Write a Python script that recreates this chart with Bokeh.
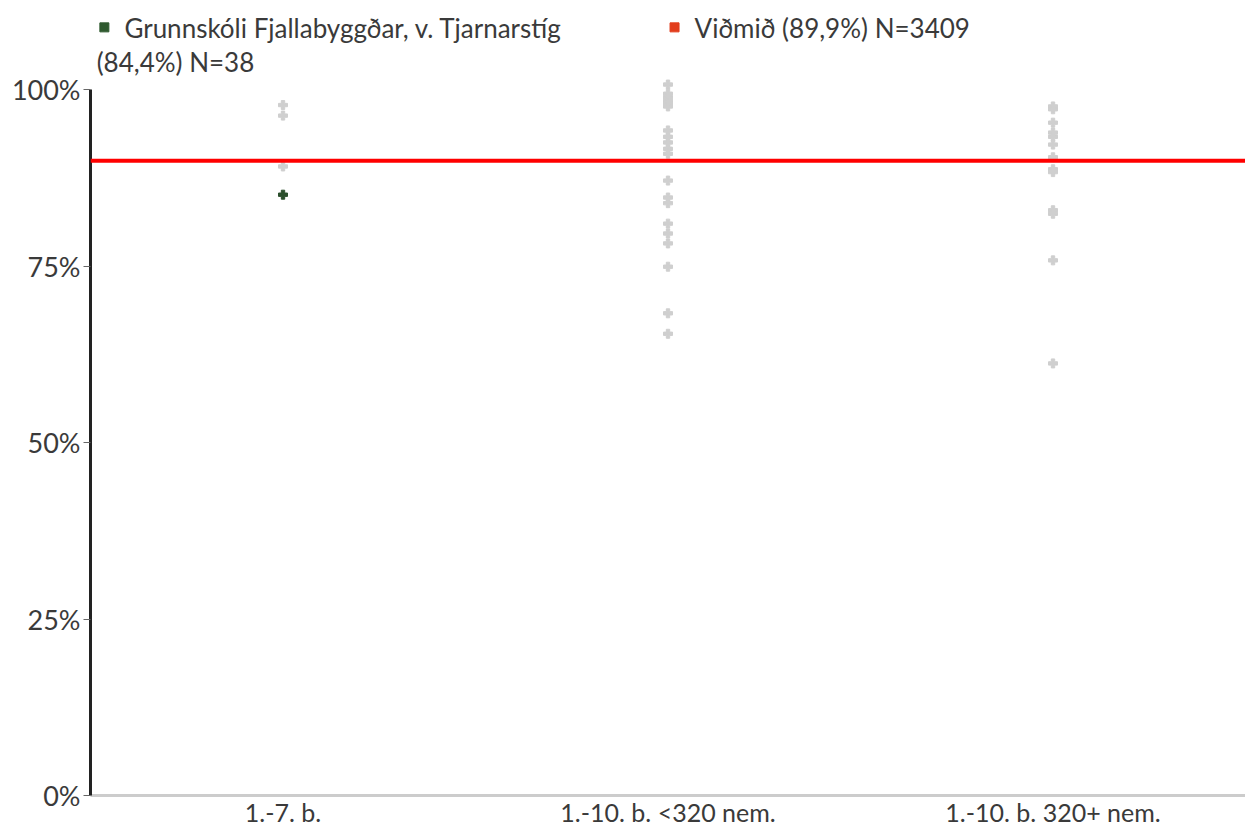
from bokeh.plotting import figure
from bokeh.models import Span, Label, FixedTicker, Range1d
from bokeh.embed import file_html
from bokeh.resources import INLINE

categories = ["1.-7. b.", "1.-10. b. <320 nem.", "1.-10. b. 320+ nem."]
cat1_values = [97.8, 96.3, 89.1]
cat2_values = [100.7, 99.4, 98.9, 98.4, 98.0, 97.6, 94.2, 93.3, 92.5, 91.6, 90.9,
               87.1, 84.7, 83.9, 81.0, 79.6, 78.2, 74.9, 68.3, 65.4]
cat3_values = [97.6, 97.2, 95.3, 93.9, 93.3, 92.2, 90.4, 88.7, 88.3, 82.9, 82.4,
               75.8, 61.2]
school_category = 0
school_value = 85.1
reference_value = 89.9
y_ticks = [0, 25, 50, 75, 100]
y_tick_labels = ["0%", "25%", "50%", "75%", "100%"]
legend_school = "Grunnskóli Fjallabyggðar, v. Tjarnarstíg"
legend_school_2 = "(84,4%) N=38"
legend_ref = "Viðmið (89,9%) N=3409"

FONT = "Lato"
TXT = "#3a3a3a"

W, H = 1245, 829
LEFT, BOTTOM = 90, 34
frame_h = H - BOTTOM
px_per_unit = (frame_h - 89) / 100.0
y_top = 100 + 89 / px_per_unit

p = figure(width=W, height=H, output_backend="svg", toolbar_location=None,
           x_range=Range1d(0, 3), y_range=Range1d(0, y_top),
           min_border_left=LEFT, min_border_right=0, min_border_top=0,
           min_border_bottom=BOTTOM)
p.outline_line_color = None
p.xgrid.visible = False
p.ygrid.visible = False

all_groups = [cat1_values, cat2_values, cat3_values]
for i, vals in enumerate(all_groups):
    p.scatter([i + 0.5] * len(vals), vals, marker="plus", size=9,
              color="#cfcfcf", line_color="#cfcfcf")

p.scatter([school_category + 0.5], [school_value], marker="plus", size=9,
          color="#2b4f2c", line_color="#2b4f2c")

p.add_layout(Span(location=reference_value, dimension="width",
                  line_color="#ff0000", line_width=4))

# axes
p.yaxis.bounds = (0, 100)
p.yaxis.ticker = FixedTicker(ticks=y_ticks)
p.yaxis.major_label_overrides = {t: l for t, l in zip(y_ticks, y_tick_labels)}
p.yaxis.axis_line_color = "#222222"
p.yaxis.axis_line_width = 3
p.yaxis.major_tick_in = 0
p.yaxis.major_tick_out = 7
p.yaxis.major_tick_line_color = "#666666"
p.yaxis.minor_tick_line_color = None
p.yaxis.major_label_text_font = FONT
p.yaxis.major_label_text_font_size = "27px"
p.yaxis.major_label_text_color = TXT
p.yaxis.major_label_standoff = 3

p.xaxis.ticker = FixedTicker(ticks=[0.5, 1.5, 2.5])
p.xaxis.major_label_overrides = {0.5: categories[0], 1.5: categories[1], 2.5: categories[2]}
p.xaxis.axis_line_color = "#cccccc"
p.xaxis.axis_line_width = 3
p.xaxis.major_tick_in = 0
p.xaxis.major_tick_out = 0
p.xaxis.major_tick_line_color = None
p.xaxis.minor_tick_line_color = None
p.xaxis.major_label_text_font = FONT
p.xaxis.major_label_text_font_size = "25px"
p.xaxis.major_label_text_color = TXT
p.xaxis.major_label_standoff = 1

# legend drawn inside the upper strip of the frame
p.scatter([0.036], [108.8], marker="square", size=9, color="#2f5a2f")
p.scatter([1.517], [108.8], marker="square", size=9, color="#e23d1c")
p.add_layout(Label(x=0.088, y=108.75, text=legend_school, text_color=TXT,
                   text_font=FONT, text_font_size="26px",
                   text_align="left", text_baseline="middle"))
p.add_layout(Label(x=0.016, y=103.9, text=legend_school_2, text_color=TXT,
                   text_font=FONT, text_font_size="26px",
                   text_align="left", text_baseline="middle"))
p.add_layout(Label(x=1.569, y=108.75, text=legend_ref, text_color=TXT,
                   text_font=FONT, text_font_size="26px",
                   text_align="left", text_baseline="middle"))

open("out.html", "w").write(file_html(p, INLINE))
